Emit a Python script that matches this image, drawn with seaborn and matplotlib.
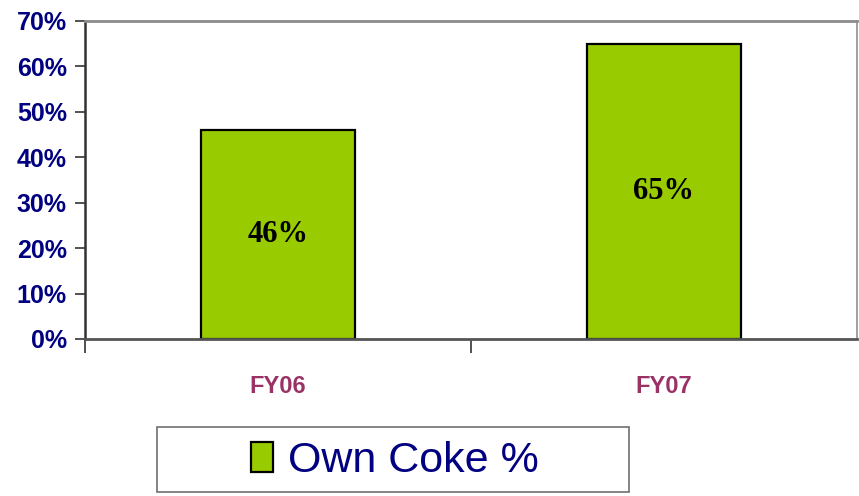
import matplotlib
matplotlib.use("Agg")
import matplotlib.pyplot as plt
from matplotlib import font_manager
from matplotlib.patches import Patch, Rectangle
from matplotlib.ticker import FixedLocator
import pandas as pd
import seaborn as sns

# Share of own coke by fiscal year
categories = ["FY06", "FY07"]
own_coke_pct = [46, 65]
y_ticks = [0, 10, 20, 30, 40, 50, 60, 70]
y_tick_labels = [f"{v}%" for v in y_ticks]
series_name = "Own Coke %"

BAR_GREEN = "#99CC00"
NAVY = "#000080"
PLUM = "#993366"

sns.set_style("white")

# prefer a narrow sans face when one is installed
installed = {f.name for f in font_manager.fontManager.ttflist}
if "Liberation Sans Narrow" in installed:
    sans = "Liberation Sans Narrow"
    ytick_size, xtick_size, legend_size = 21, 21, 36
else:
    sans = "Liberation Sans"
    ytick_size, xtick_size, legend_size = 18, 17, 31
plt.rcParams["font.family"] = [sans, "DejaVu Sans"]

df = pd.DataFrame({"year": categories, "pct": own_coke_pct})

fig = plt.figure(figsize=(8.59, 4.96), dpi=100)
ax = fig.add_axes([85 / 859, 1 - 339 / 496, (857 - 85) / 859, (339 - 21) / 496])

sns.barplot(data=df, x="year", y="pct", color=BAR_GREEN, edgecolor="black",
            linewidth=1.6, width=0.4, saturation=1, ax=ax)

# value labels centred inside each bar
for patch, val in zip(ax.patches, own_coke_pct):
    ax.text(patch.get_x() + patch.get_width() / 2, val / 2, f"{val}%",
            ha="center", va="center", fontsize=22, fontweight="bold",
            family=["Liberation Serif", "DejaVu Serif"], color="black")

ax.set_xlim(-0.5, 1.5)
ax.set_ylim(0, 70)
ax.set_yticks(y_ticks)
ax.set_yticklabels(y_tick_labels, color=NAVY, fontsize=ytick_size,
                   fontweight="bold")
ax.set_xlabel("")
ax.set_ylabel("")

# category labels without marks; separator marks between categories
ax.tick_params(axis="x", which="major", length=0, pad=26, labelsize=xtick_size,
               labelcolor=PLUM)
for lbl in ax.get_xticklabels():
    lbl.set_fontweight("bold")
ax.xaxis.set_minor_locator(FixedLocator([-0.5, 0.5]))
ax.tick_params(axis="x", which="minor", length=10, width=1.2, color="#333333",
               direction="out", bottom=True)
ax.tick_params(axis="y", which="major", length=7, width=1.2, color="#333333",
               direction="out", left=True, pad=6)

for side, col, lw in [("left", "#333333", 1.8), ("bottom", "#555555", 2.0),
                      ("top", "#8c8c8c", 2.0), ("right", "#a0a0a0", 1.4)]:
    ax.spines[side].set_visible(True)
    ax.spines[side].set_color(col)
    ax.spines[side].set_linewidth(lw)

# legend in a framed box below the chart
box = Rectangle((157 / 859, 1 - 492 / 496), (629 - 157) / 859, (492 - 427) / 496,
                transform=fig.transFigure, facecolor="white", edgecolor="#707070",
                linewidth=1.2, zorder=1)
fig.patches.append(box)
handle = Patch(facecolor=BAR_GREEN, edgecolor="black", linewidth=1.6)
leg = fig.legend([handle], [series_name], loc="center",
                 bbox_to_anchor=(395 / 859, 1 - 461 / 496), frameon=False,
                 fontsize=legend_size, handlelength=0.5, handleheight=0.7,
                 handletextpad=0.35, labelcolor=NAVY)

fig.savefig("out.png", dpi=100, facecolor="white")
